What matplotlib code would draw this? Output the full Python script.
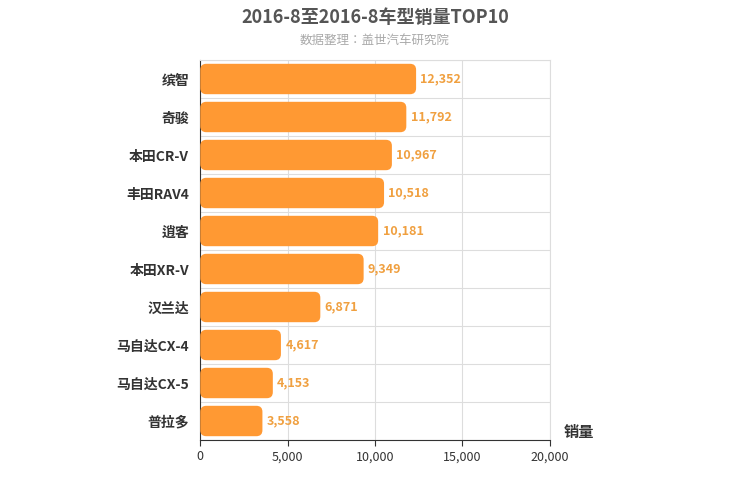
import matplotlib.pyplot as plt
from matplotlib.patches import FancyBboxPatch
from matplotlib.ticker import FuncFormatter

plt.rcParams['font.family'] = ['sans-serif']
plt.rcParams['font.sans-serif'] = ['Noto Sans CJK JP', 'Noto Sans CJK SC',
                                   'DejaVu Sans']

models = ['缤智', '奇骏', '本田CR-V', '丰田RAV4', '逍客',
          '本田XR-V', '汉兰达', '马自达CX-4', '马自达CX-5', '普拉多']
sales = [12352, 11792, 10967, 10518, 10181, 9349, 6871, 4617, 4153, 3558]

fig = plt.figure(figsize=(7.5, 5), dpi=100)
ax = fig.add_axes([0.267, 0.12, 0.466, 0.76])

n = len(models)
ys = list(range(n - 1, -1, -1))
bar_h = 0.8
ax.set_xlim(0, 20000)
ax.set_ylim(-0.5, n - 0.5)

# per-pixel scales so the corner rounding looks circular
x_per_px = 20000 / 350
y_per_px = n / 380
for y, v in zip(ys, sales):
    box = FancyBboxPatch((0, y - bar_h / 2), v, bar_h,
                         boxstyle='round,pad=0,rounding_size=%f' % (6 * x_per_px),
                         mutation_aspect=y_per_px / x_per_px,
                         facecolor='#ff9933', edgecolor='none', zorder=3)
    ax.add_patch(box)
    ax.text(v + 250, y, f'{v:,}', va='center', ha='left',
            fontsize=9, color='#f0a040', fontweight='bold', zorder=4)

ax.set_yticks(ys)
ax.set_yticklabels(models, fontsize=10, fontweight='bold', color='#333333')
ax.set_xticks(range(0, 20001, 5000))
ax.xaxis.set_major_formatter(FuncFormatter(lambda x, p: f'{int(x):,}'))
ax.tick_params(axis='x', labelsize=9, colors='#333333', length=4)
ax.tick_params(axis='y', which='both', length=0, pad=8)

ax.set_yticks([i - 0.5 for i in range(n + 1)], minor=True)
ax.grid(True, axis='x', color='#dddddd', lw=0.8, zorder=0)
ax.grid(True, axis='y', which='minor', color='#dddddd', lw=0.8, zorder=0)
ax.grid(False, axis='y', which='major')
for s in ['top', 'right']:
    ax.spines[s].set_color('#dddddd')
ax.spines['left'].set_color('#333333')
ax.spines['bottom'].set_color('#333333')

ax.text(1.04, 0.0, '销量', transform=ax.transAxes, fontsize=11,
        fontweight='bold', color='#333333', va='bottom')

fig.text(0.5, 0.965, '2016-8至2016-8车型销量TOP10', ha='center', va='center',
         fontsize=13, fontweight='bold', color='#555555')
fig.text(0.5, 0.92, '数据整理：盖世汽车研究院', ha='center', va='center',
         fontsize=9, color='#aaaaaa')

fig.savefig('out.png', dpi=100)
